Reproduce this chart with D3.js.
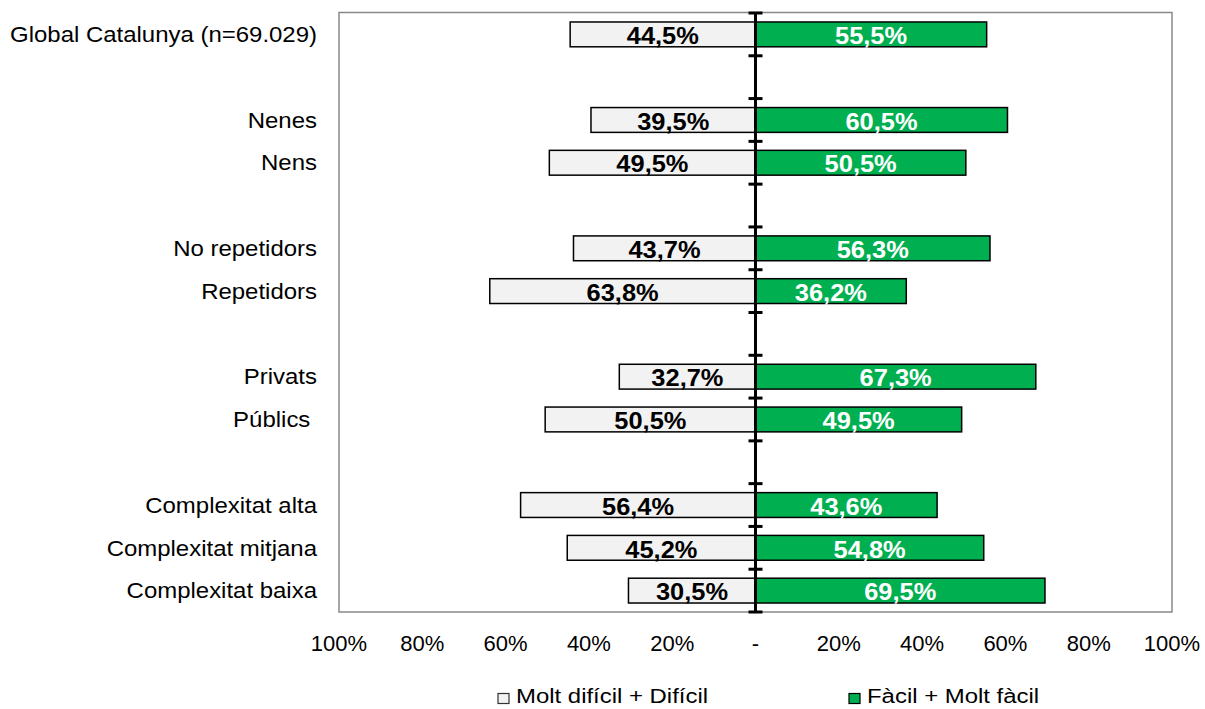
<!DOCTYPE html>
<html><head><meta charset="utf-8">
<script src="https://cdn.jsdelivr.net/npm/d3@7"></script>
<style>
html,body{margin:0;padding:0;background:#fff;}
svg text{font-family:Arial,"Liberation Sans",sans-serif;white-space:pre;}
</style></head>
<body><svg id="c" width="1205" height="709"></svg>
<script>
const categories = ["Global Catalunya (n=69.029)", "", "Nenes", "Nens", "", "No repetidors", "Repetidors", "", "Privats", "Públics ", "", "Complexitat alta", "Complexitat mitjana", "Complexitat baixa"];
const difficult = [44.5, null, 39.5, 49.5, null, 43.7, 63.8, null, 32.7, 50.5, null, 56.4, 45.2, 30.5];
const easy = [55.5, null, 60.5, 50.5, null, 56.3, 36.2, null, 67.3, 49.5, null, 43.6, 54.8, 69.5];
const tickValues = [-100, -80, -60, -40, -20, 0, 20, 40, 60, 80, 100];
const tickLabels = ["100%", "80%", "60%", "40%", "20%", "-", "20%", "40%", "60%", "80%", "100%"];
const seriesNames = ["Molt difícil + Difícil", "Fàcil + Molt fàcil"];

const svg = d3.select("#c");
const L = 339, R = 1172, T = 13, B = 612;
const x = d3.scaleLinear().domain([-100, 100]).range([L, R]);
const idx = d3.range(categories.length);
const y = d3.scaleBand().domain(idx).range([T, B]).paddingInner(0.42).paddingOuter(0.21);
const step = y.step();
const fmt = v => d3.format(".1f")(v).replace(".", ",") + "%";

function stretchedText(g, tx, ty, str, opts) {
  const gg = g.append("g").attr("transform", `translate(${tx},${ty}) scale(${opts.sx || 1},1)`);
  gg.append("text").attr("x", 0).attr("y", 0)
    .attr("text-anchor", opts.anchor || "start")
    .attr("dominant-baseline", "central")
    .attr("font-size", opts.size).attr("font-weight", opts.weight || "normal")
    .attr("fill", opts.fill || "#000").text(str);
}

// plot border
svg.append("rect").attr("x", L).attr("y", T - 0.5).attr("width", R - L).attr("height", B - T + 0.5)
  .attr("fill", "none").attr("stroke", "#898989").attr("stroke-width", 1.5);

const rows = idx.filter(i => difficult[i] != null);
// bars
const bars = svg.append("g");
bars.selectAll("rect.d").data(rows).join("rect").attr("class", "d")
  .attr("x", i => x(-difficult[i])).attr("y", i => y(i))
  .attr("width", i => x(0) - x(-difficult[i])).attr("height", y.bandwidth())
  .attr("fill", "#f2f2f2").attr("stroke", "#000").attr("stroke-width", 1.5);
bars.selectAll("rect.e").data(rows).join("rect").attr("class", "e")
  .attr("x", x(0)).attr("y", i => y(i))
  .attr("width", i => x(easy[i]) - x(0)).attr("height", y.bandwidth())
  .attr("fill", "#00b050").attr("stroke", "#000").attr("stroke-width", 1.5);

// center axis
const ax = svg.append("g");
ax.append("line").attr("x1", x(0)).attr("x2", x(0)).attr("y1", T - 1).attr("y2", B + 1)
  .attr("stroke", "#000").attr("stroke-width", 3);
ax.selectAll("line.t").data(d3.range(categories.length + 1)).join("line").attr("class", "t")
  .attr("x1", x(0) - 7).attr("x2", x(0) + 7)
  .attr("y1", k => T + k * step).attr("y2", k => T + k * step)
  .attr("stroke", "#000").attr("stroke-width", 3);

// bar labels
const lbl = svg.append("g");
rows.forEach(i => {
  const cy = y(i) + y.bandwidth() / 2 + 1.5;
  stretchedText(lbl, (x(-difficult[i]) + x(0)) / 2, cy, fmt(difficult[i]), {anchor: "middle", size: 24, weight: "bold", sx: 1.06});
  stretchedText(lbl, (x(easy[i]) + x(0)) / 2, cy, fmt(easy[i]), {anchor: "middle", size: 24, weight: "bold", sx: 1.06, fill: "#fff"});
});

// category labels
const cat = svg.append("g");
rows.forEach(i => {
  stretchedText(cat, 317, y(i) + y.bandwidth() / 2, categories[i], {anchor: "end", size: 22.5, sx: 1.065});
});

// x tick labels
const xt = svg.append("g");
tickValues.forEach((v, k) => {
  stretchedText(xt, x(v), 643, tickLabels[k], {anchor: "middle", size: 22, sx: 1});
});

// legend
const lg = svg.append("g");
const legX = [498, 849];
const legFill = ["#f2f2f2", "#00b050"];
const legStroke = ["#333", "#000"];
seriesNames.forEach((s, k) => {
  lg.append("rect").attr("x", legX[k]).attr("y", 693.5).attr("width", 11).attr("height", 10)
    .attr("fill", legFill[k]).attr("stroke", legStroke[k]).attr("stroke-width", 1.2);
  stretchedText(lg, legX[k] + 18, 696.5, s, {anchor: "start", size: 21, sx: 1.14});
});
</script></body></html>
